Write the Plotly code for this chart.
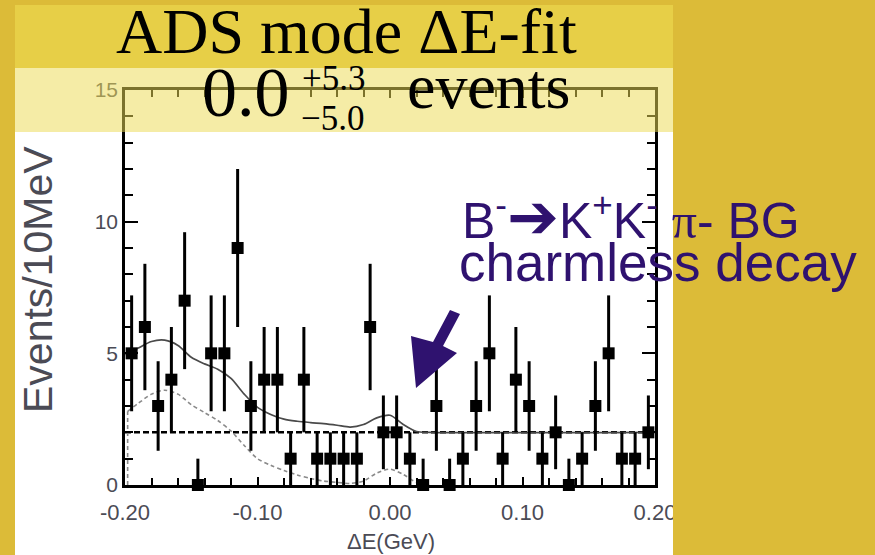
import plotly.graph_objects as go

# ---------------- data ----------------
bin_centers = [-0.195, -0.185, -0.175, -0.165, -0.155, -0.145, -0.135, -0.125, -0.115, -0.105,
               -0.095, -0.085, -0.075, -0.065, -0.055, -0.045, -0.035, -0.025, -0.015, -0.005,
               0.005, 0.015, 0.025, 0.035, 0.045, 0.055, 0.065, 0.075, 0.085, 0.095,
               0.105, 0.115, 0.125, 0.135, 0.145, 0.155, 0.165, 0.175, 0.185, 0.195]
counts = [5, 6, 3, 4, 7, 0, 5, 5, 9, 3,
          4, 4, 1, 4, 1, 1, 1, 1, 6, 2,
          2, 1, 0, 3, 0, 1, 3, 5, 1, 4,
          3, 1, 2, 0, 1, 3, 5, 1, 1, 2]
err_hi = [2.2, 2.4, 1.7, 2, 2.6, 1, 2.2, 2.2, 3, 1.7,
          2, 2, 1, 2, 1, 1, 1, 1, 2.4, 1.4,
          1.4, 1, 1, 1.7, 1, 1, 1.7, 2.2, 1, 2,
          1.7, 1, 1.4, 1, 1, 1.7, 2.2, 1, 1, 1.4]
err_lo = [2.2, 2.4, 1.7, 2, 2.6, 0, 2.2, 2.2, 3, 1.7,
          2, 2, 1, 2, 1, 1, 1, 1, 2.4, 1.4,
          1.4, 1, 0, 1.7, 0, 1, 1.7, 2.2, 1, 2,
          1.7, 1, 1.4, 0, 1, 1.7, 2.2, 1, 1, 1.4]

fit_x = [-0.1995, -0.19, -0.18, -0.17, -0.16, -0.15, -0.14, -0.13, -0.12, -0.11, -0.10,
         -0.09, -0.08, -0.07, -0.06, -0.05, -0.04, -0.03, -0.02, -0.01, 0.00, 0.01, 0.02,
         0.03, 0.20]
fit_y = [4.94, 5.2, 5.45, 5.5, 5.3, 4.85, 4.6, 4.4, 4.05, 3.45, 2.95,
         2.68, 2.5, 2.42, 2.37, 2.33, 2.27, 2.2, 2.3, 2.55, 2.65, 2.3, 2.03,
         2.0, 2.0]

peak_x = [-0.198, -0.19, -0.18, -0.17, -0.16, -0.15, -0.14, -0.13, -0.12, -0.11, -0.10,
          -0.09, -0.08, -0.07, -0.06, -0.05, -0.04, -0.03, -0.02, -0.01, 0.00, 0.01, 0.02, 0.03]
peak_y = [2.8, 3.1, 3.45, 3.6, 3.45, 3.05, 2.75, 2.45, 2.05, 1.5, 1.0,
          0.75, 0.55, 0.38, 0.25, 0.15, 0.1, 0.06, 0.15, 0.45, 0.6, 0.4, 0.1, 0.0]

bg_x = [-0.20, 0.20]
bg_y = [2, 2]

x_tickvals = [-0.2, -0.1, 0.0, 0.1, 0.2]
x_ticktext = ["-0.20", "-0.10", "0.00", "0.10", "0.20"]
y_tickvals = [0, 5, 10, 15]
y_ticktext = ["0", "5", "10", "15"]

# ---------------- geometry helpers (pixel -> paper) ----------------
W, H = 875, 555
L, R, T, B = 125, 655, 90, 485


def px(x):
    return (x - L) / (R - L)


def py(y):
    return (B - y) / (B - T)


GOLD = "#DCBB38"
PURPLE = "#2F126F"
GRAYTXT = "#4b4b55"

fig = go.Figure()

fig.add_trace(go.Scatter(x=bg_x, y=bg_y, mode="lines",
                         line=dict(color="black", width=2.5, dash="6px,3px"),
                         hoverinfo="skip", showlegend=False))
fig.add_trace(go.Scatter(x=[peak_x[0], peak_x[0]], y=[0, peak_y[0]], mode="lines",
                         line=dict(color="#8a8a8a", width=1.6, dash="4px,3px"),
                         hoverinfo="skip", showlegend=False))
fig.add_trace(go.Scatter(x=peak_x, y=peak_y, mode="lines",
                         line=dict(color="#8a8a8a", width=1.6, dash="4px,3px",
                                   shape="spline", smoothing=0.8),
                         hoverinfo="skip", showlegend=False))
fig.add_trace(go.Scatter(x=fit_x, y=fit_y, mode="lines",
                         line=dict(color="#4a4a4a", width=1.7, shape="spline", smoothing=0.8),
                         hoverinfo="skip", showlegend=False))
fig.add_trace(go.Scatter(x=bin_centers, y=counts, mode="markers",
                         marker=dict(symbol="square", size=12, color="black"),
                         error_y=dict(type="data", symmetric=False, array=err_hi,
                                      arrayminus=err_lo, thickness=3, width=0, color="black"),
                         cliponaxis=False, showlegend=False))

axis_common = dict(showline=True, linewidth=2.5, linecolor="black", mirror="allticks",
                   ticks="inside", tickwidth=2, tickcolor="black", showgrid=False,
                   zeroline=False)

fig.update_xaxes(range=[-0.2, 0.2], tickmode="array", tickvals=x_tickvals,
                 ticktext=x_ticktext, ticklen=8, ticklabelstandoff=6,
                 tickfont=dict(family="Liberation Sans", size=22, color=GRAYTXT),
                 minor=dict(dtick=0.02, tick0=0, ticks="inside", ticklen=7, tickwidth=2,
                            tickcolor="black", showgrid=False),
                 **axis_common)
fig.update_yaxes(range=[0, 15], tickmode="array", tickvals=y_tickvals,
                 ticktext=y_ticktext, ticklen=13, ticklabelstandoff=0,
                 tickfont=dict(family="Liberation Sans", size=21, color=GRAYTXT),
                 minor=dict(dtick=1, tick0=0, ticks="inside", ticklen=8, tickwidth=2,
                            tickcolor="black", showgrid=False),
                 **axis_common)

shapes = [
    # white slide region
    dict(type="rect", xref="paper", yref="paper", x0=px(15), x1=px(673), y0=py(560), y1=py(68),
         fillcolor="white", line=dict(width=0), layer="below"),
    # title band
    dict(type="rect", xref="paper", yref="paper", x0=px(15), x1=px(673), y0=py(68), y1=py(5),
         fillcolor="#E7CF47", line=dict(width=0), layer="below"),
    # translucent pale box over top of plot
    dict(type="rect", xref="paper", yref="paper", x0=px(15), x1=px(673), y0=py(132), y1=py(68),
         fillcolor="rgba(236,218,85,0.52)", line=dict(width=0), layer="above"),
    # right gold area (clips the last tick label)
    dict(type="rect", xref="paper", yref="paper", x0=px(673), x1=px(880), y0=py(560), y1=py(-5),
         fillcolor=GOLD, line=dict(width=0), layer="above"),
]

arrow_pts = [(450, 310), (460, 314), (443, 346), (457, 353), (416, 388), (411, 336), (433, 342)]
path = "M " + " L ".join(f"{px(a):.5f},{py(b):.5f}" for a, b in arrow_pts) + " Z"
shapes.append(dict(type="path", xref="paper", yref="paper", path=path,
                   fillcolor=PURPLE, line=dict(width=0), layer="above"))


def ann(text, x, y, size, family, color="black", angle=0, xanchor="center"):
    return dict(text=text, x=px(x), y=py(y), xref="paper", yref="paper", showarrow=False,
                xanchor=xanchor, yanchor="middle", textangle=angle,
                font=dict(family=family, size=size, color=color))


annotations = [
    ann("ADS mode ΔE-fit", 346, 31, 64, "Liberation Serif"),
    ann("0.0", 246, 92, 70, "Liberation Serif"),
    ann("+5.3", 334, 78, 35, "Liberation Serif"),
    ann("\u22125.0", 333, 119, 35, "Liberation Serif"),
    ann("events", 489, 87, 64, "Liberation Serif"),
    ann("Events/10MeV", 38, 280, 41, "Liberation Sans", GRAYTXT, angle=-90),
    ann("ΔE(GeV)", 391, 541, 22, "Liberation Sans", GRAYTXT),
    ann('B<sup>-</sup><span style="font-family:DejaVu Sans;font-size:62px">➔</span>K<sup>+</sup>K<sup>-</sup>'
        ' <span style="font-family:Liberation Serif">π</span>- BG',
        460, 216, 50, "Liberation Sans", PURPLE, xanchor="left"),
    ann("charmless decay", 457, 262, 53, "Liberation Sans", PURPLE, xanchor="left"),
]

fig.update_layout(width=W, height=H, autosize=False,
                  margin=dict(l=L, r=W - R, t=T, b=H - B, autoexpand=False),
                  paper_bgcolor=GOLD, plot_bgcolor="white",
                  shapes=shapes, annotations=annotations, showlegend=False)

fig.write_html("out.html", config={"displayModeBar": False},
               post_script="document.body.style.margin='0';document.body.style.background='%s';" % GOLD)
